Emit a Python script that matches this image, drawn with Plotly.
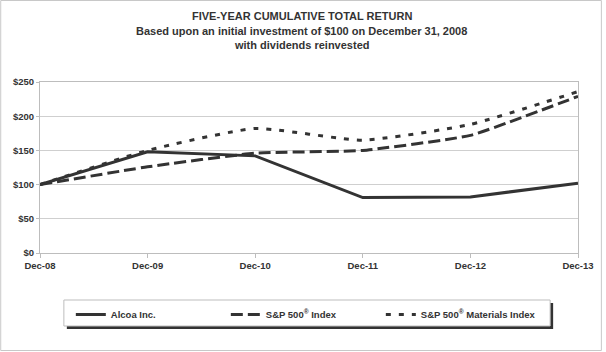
import plotly.graph_objects as go

dates = ["Dec-08", "Dec-09", "Dec-10", "Dec-11", "Dec-12", "Dec-13"]
alcoa = [100, 148, 142, 81, 82, 102]
sp500 = [100, 126, 146, 150, 172, 229]
materials = [100, 150, 182, 165, 188, 236]

title_lines = ["FIVE-YEAR CUMULATIVE TOTAL RETURN",
               "Based upon an initial investment of $100 on December 31, 2008",
               "with dividends reinvested"]

FONT = "Liberation Sans, Arial, sans-serif"
DARK = "#333333"

fig = go.Figure()
fig.add_trace(go.Scatter(x=dates, y=alcoa, name="Alcoa Inc.", mode="lines",
                         line=dict(color=DARK, width=3)))
fig.add_trace(go.Scatter(x=dates, y=sp500, name="S&P 500<sup>®</sup> Index", mode="lines",
                         line=dict(color=DARK, width=3, dash="12px,5px", shape="spline", smoothing=0.4)))
fig.add_trace(go.Scatter(x=dates, y=materials, name="S&P 500<sup>®</sup> Materials Index", mode="lines",
                         line=dict(color=DARK, width=3, dash="5px,8px", shape="spline", smoothing=0.5)))

L, R, T, B = 40, 25, 82, 99
W, H = 606, 352
pw, ph = W - L - R, H - T - B

def px(x):
    return (x - L) / pw

def py(y):
    return (H - B - y) / ph

shapes = [
    dict(type="rect", xref="paper", yref="paper", x0=px(0.5), x1=px(604.5), y0=py(350.5), y1=py(0.5),
         line=dict(color="#c8c8c8", width=1), layer="below"),
    dict(type="rect", xref="paper", yref="paper", x0=px(67), x1=px(556), y0=py(329), y1=py(303),
         line=dict(width=0), fillcolor=DARK, layer="above"),
    dict(type="rect", xref="paper", yref="paper", x0=px(64), x1=px(553), y0=py(326), y1=py(300),
         line=dict(color="#bdbdbd", width=1), fillcolor="white", layer="above"),
]

annotations = [
    dict(text=t, xref="paper", yref="paper", x=px(303), y=py(yy), xanchor="center", yanchor="middle",
         showarrow=False, font=dict(family=FONT, size=11, color=DARK, weight="bold"))
    for t, yy in zip(title_lines, [16, 31, 45])
]

fig.update_layout(
    width=W, height=H,
    margin=dict(l=L, r=R, t=T, b=B),
    paper_bgcolor="white", plot_bgcolor="white",
    font=dict(family=FONT, color=DARK),
    shapes=shapes,
    annotations=annotations,
    showlegend=True,
    legend=dict(orientation="h", x=px(71), xanchor="left", y=py(300), yanchor="top",
                bgcolor="rgba(0,0,0,0)", borderwidth=0, entrywidth=110,
                font=dict(family=FONT, size=9.5, color=DARK, weight="bold"),
                itemclick=False, itemdoubleclick=False),
)

fig.update_xaxes(type="category", showgrid=False, showline=True, linecolor="#bdbdbd", linewidth=1,
                 mirror=True, ticks="outside", ticklen=4, tickcolor="#bdbdbd",
                 range=[0, 5], tickfont=dict(family=FONT, size=9.5, color=DARK, weight="bold"))
fig.update_yaxes(range=[0, 250], dtick=50, tickprefix="$", showgrid=True, gridcolor="#cfcfcf",
                 showline=True, linecolor="#bdbdbd", linewidth=1, mirror=True,
                 ticks="outside", ticklen=3, tickcolor="#bdbdbd", zeroline=False,
                 tickfont=dict(family=FONT, size=9.5, color=DARK, weight="bold"))

fig.write_html("out.html")
